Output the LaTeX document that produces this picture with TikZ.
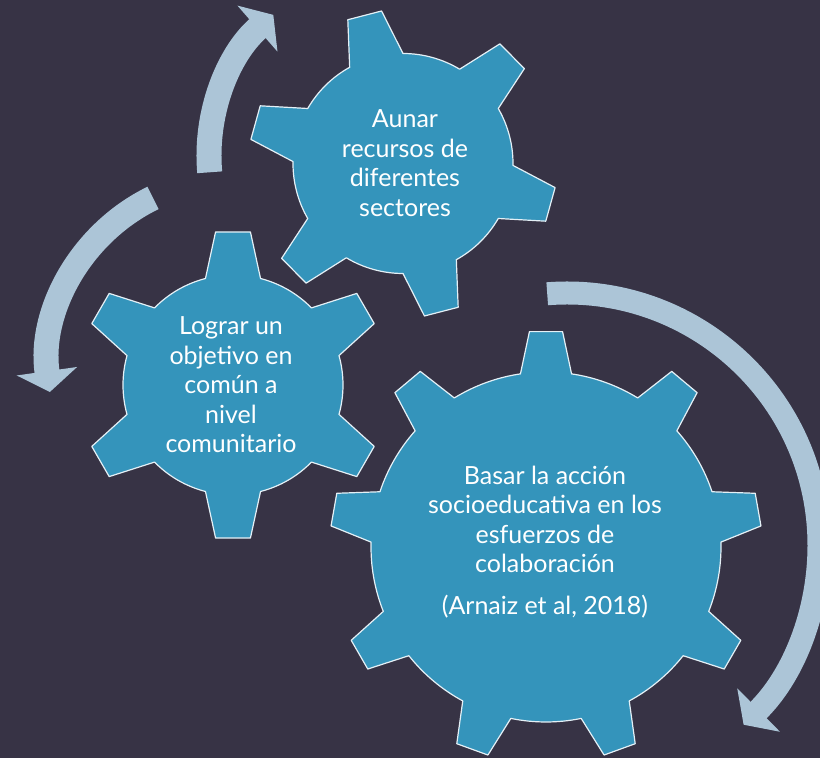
\documentclass[tikz,border=0pt]{standalone}
\usepackage{fontspec}
\setmainfont{Lato}
\usepackage{tikz}
\usetikzlibrary{arrows.meta}

\definecolor{bgDark}{RGB}{55,51,69}
\definecolor{gearBlue}{RGB}{52,148,187}
\definecolor{gearEdge}{RGB}{228,240,246}
\definecolor{arrowGrey}{RGB}{172,197,215}

% x, y, teeth, rotation, body radius, tip radius, half base angle, half tip angle
\newcommand{\drawGear}[8]{%
  \pgfmathsetmacro{\gearStep}{360/#3}
  \draw[gearBody, shift={(#1,#2)}] ({#4+#7}:#5)
    \foreach \k in {1,...,#3}{
      arc[start angle={#4+(\k-1)*\gearStep+#7}, end angle={#4+\k*\gearStep-#7}, radius=#5]
      -- ({#4+\k*\gearStep-#8}:#6) -- ({#4+\k*\gearStep+#8}:#6) -- ({#4+\k*\gearStep+#7}:#5)
    } -- cycle;
}

\begin{document}
\begin{tikzpicture}[
        x=1pt, y=1pt,
        gearBody/.style={fill=gearBlue, draw=gearEdge, line width=1.2pt, line join=round},
        gearText/.style={text=white, align=center, font=\fontsize{25}{29.5}\selectfont},
        cycleArrow/.style={draw=arrowGrey, -{Triangle[width=60pt, length=21pt]}}
    ]
        % Background
        \fill[bgDark] (0,0) rectangle (820,758);
        \clip (0,0) rectangle (820,758);

        % Circular arrows
        \coordinate (arcTop) at (396,602);
        \coordinate (arcLeft) at (235,392);
        \coordinate (arcBig) at (567,213);
        \draw[cycleArrow, line width=25pt] (arcTop) ++(185:187) arc[start angle=185, end angle=131, radius=187];
        \draw[cycleArrow, line width=25pt] (arcLeft) ++(116:187) arc[start angle=116, end angle=188, radius=187];
        \draw[cycleArrow, line width=23pt] (arcBig) ++(94.5:252) arc[start angle=94.5, end angle=-45.5, radius=252];

        % Gears
        \drawGear{403}{594.5}{6}{104.5}{110}{154}{14.5}{6.5}
        \drawGear{233}{373}{6}{90}{110}{154}{14.5}{6.5}
        \drawGear{546}{211}{9}{90}{175}{216}{8.4}{4.4}

        % Gear texts
        \node[gearText] (textAunar) at (405,595) {Aunar\\recursos de\\diferentes\\sectores};
        \node[gearText] (textLograr) at (231,373) {Lograr un\\objetivo en\\común a\\nivel\\comunitario};
        \node[gearText] (textBasar) at (545,216) {Basar la acción\\socioeducativa en los\\esfuerzos de\\colaboración\\[12pt](Arnaiz et al, 2018)};

    \end{tikzpicture}
\end{document}
